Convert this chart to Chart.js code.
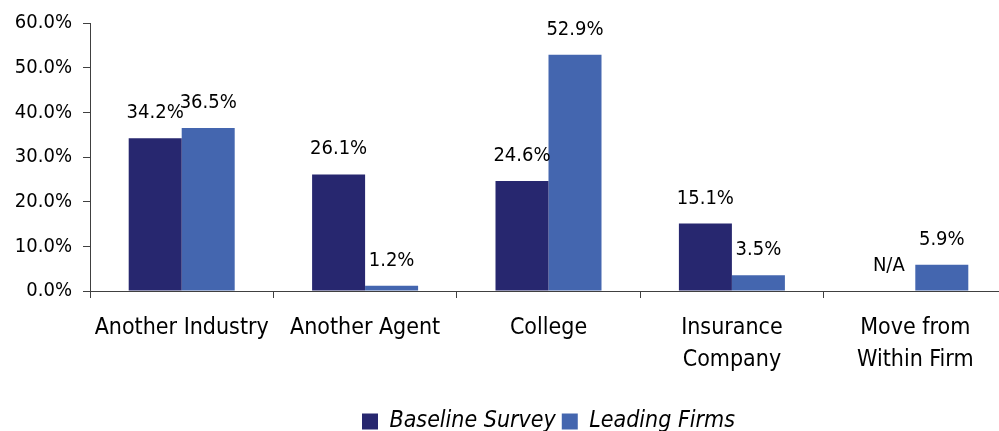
<!DOCTYPE html>
<html>
<head>
<meta charset="utf-8">
<script src="https://cdn.jsdelivr.net/npm/chart.js@4.4.1/dist/chart.umd.min.js"></script>
<style>
  html, body { margin: 0; padding: 0; background: #ffffff; overflow: hidden; width: 999px; height: 431px; }
  #wrap { width: 1007px; height: 443px; position: relative; }
</style>
</head>
<body>
<div id="wrap"><canvas id="c"></canvas></div>
<script>
const categories = [
  "Another Industry",
  "Another Agent",
  "College",
  ["Insurance", "Company"],
  ["Move from", "Within Firm"]
];
const baselineSurvey = [34.2, 26.1, 24.6, 15.1, null];
const leadingFirms = [36.5, 1.2, 52.9, 3.5, 5.9];
const seriesNames = ["Baseline Survey", "Leading Firms"];
const missingLabel = "N/A";
const yTicks = { min: 0, max: 60, step: 10 };

const FONT = "'DejaVu Sans Condensed', 'DejaVu Sans', sans-serif";

const valueLabels = {
  id: 'valueLabels',
  afterDatasetsDraw(chart) {
    const ctx = chart.ctx;
    const yScale = chart.scales.y;
    ctx.save();
    ctx.font = "20px " + FONT;
    ctx.fillStyle = '#000000';
    ctx.textAlign = 'center';
    ctx.textBaseline = 'alphabetic';
    chart.data.datasets.forEach((ds, di) => {
      const meta = chart.getDatasetMeta(di);
      meta.data.forEach((el, i) => {
        const v = ds.data[i];
        let text, top;
        if (v === null || v === undefined) {
          text = missingLabel;
          top = yScale.getPixelForValue(0);
        } else {
          text = v.toFixed(1) + '%';
          top = el.y;
        }
        ctx.fillText(text, el.x, top - 20);
      });
    });
    ctx.restore();
  }
};

new Chart(document.getElementById('c'), {
  type: 'bar',
  data: {
    labels: categories,
    datasets: [
      { label: seriesNames[0], data: baselineSurvey, backgroundColor: '#27276F', borderWidth: 0 },
      { label: seriesNames[1], data: leadingFirms, backgroundColor: '#4466AF', borderWidth: 0 }
    ]
  },
  options: {
    responsive: true,
    maintainAspectRatio: false,
    animation: false,
    devicePixelRatio: 1,
    layout: { padding: { top: 12, right: 0, left: 0, bottom: 0 } },
    datasets: { bar: { categoryPercentage: 0.578, barPercentage: 1.0 } },
    plugins: {
      legend: {
        position: 'bottom',
        fullSize: false,
        labels: {
          boxWidth: 16,
          boxHeight: 16,
          padding: 6,
          color: '#000000',
          font: { family: FONT, size: 23, style: 'italic' }
        }
      },
      tooltip: { enabled: false }
    },
    scales: {
      x: {
        grid: { display: true, drawOnChartArea: false, drawTicks: true, tickLength: 7, color: '#404040', offset: true },
        border: { display: true, color: '#404040', width: 1 },
        ticks: {
          color: '#000000',
          font: { family: FONT, size: 23, lineHeight: 1.35 },
          padding: 15,
          maxRotation: 0,
          autoSkip: false
        },
        afterFit(scale) { scale.height = 113; }
      },
      y: {
        min: yTicks.min,
        max: yTicks.max,
        grid: { display: true, drawOnChartArea: false, drawTicks: true, tickLength: 7, color: '#404040' },
        border: { display: true, color: '#404040', width: 1 },
        ticks: {
          stepSize: yTicks.step,
          color: '#000000',
          font: { family: FONT, size: 20 },
          padding: 11,
          callback: (v) => v.toFixed(1) + '%'
        },
        afterFit(scale) { scale.width = 90; }
      }
    }
  },
  plugins: [valueLabels]
});
</script>
</body>
</html>
